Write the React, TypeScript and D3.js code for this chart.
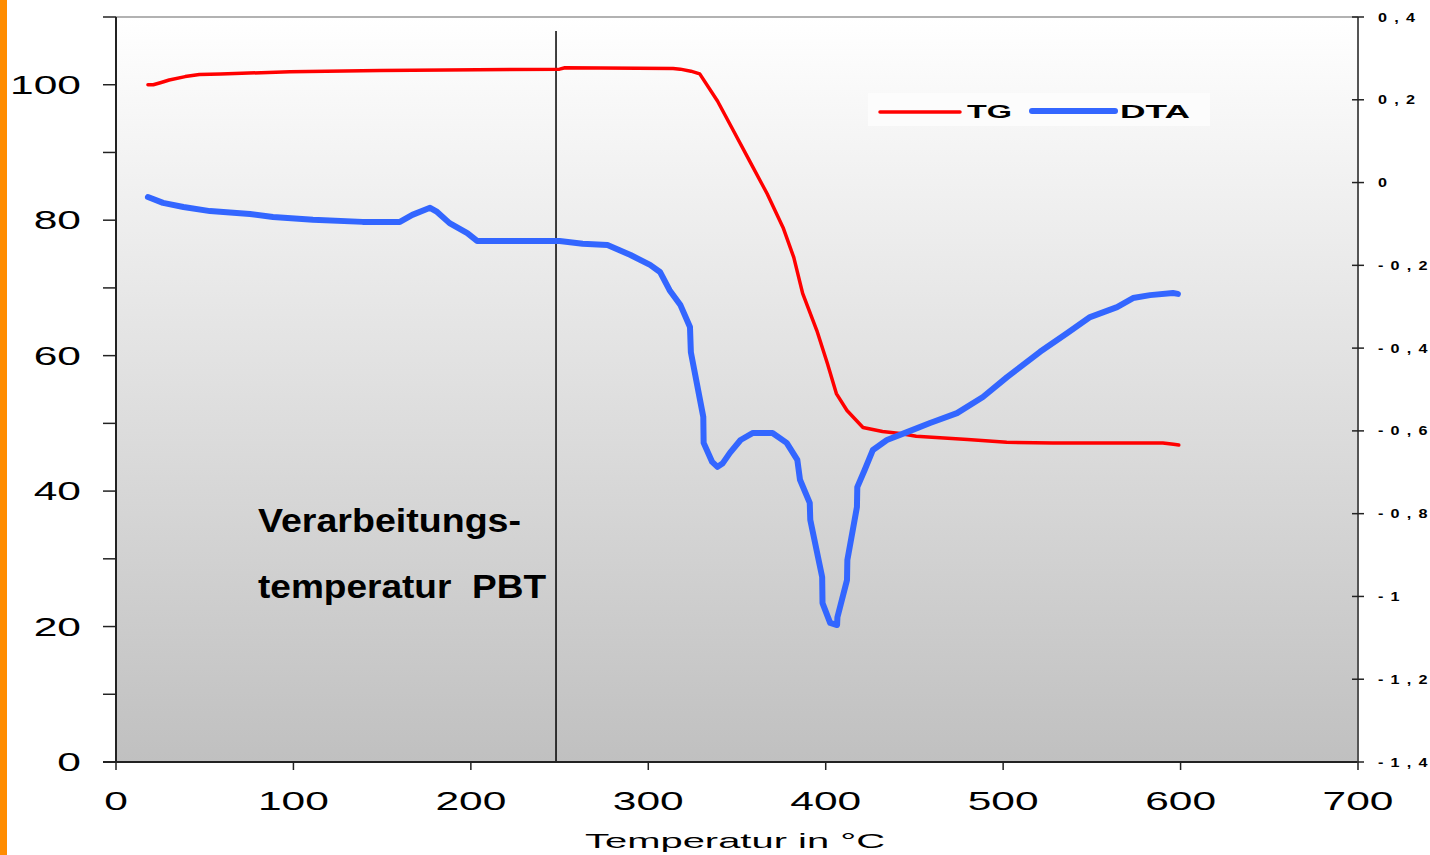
import React from "react";
import * as d3 from "d3";

const tgTemp = [18, 21, 25, 30, 39, 47, 59, 98, 149, 250, 253, 314, 318, 324, 329, 339, 348, 357, 367, 376, 382, 387, 395, 401, 406, 412, 421, 432, 442, 451, 480, 502, 528, 590, 596, 599];
const tgValue = [100.0, 100.0, 100.3, 100.7, 101.2, 101.5, 101.6, 101.9, 102.1, 102.3, 102.5, 102.4, 102.3, 102.0, 101.6, 97.6, 93.2, 88.8, 83.9, 78.9, 74.5, 69.2, 63.7, 58.8, 54.4, 51.9, 49.4, 48.8, 48.5, 48.1, 47.6, 47.2, 47.1, 47.1, 46.9, 46.8];

const dtaTemp = [18, 26.5, 38, 53, 75.5, 88.5, 111, 139, 160, 167, 177, 181, 188, 198, 203.5, 250, 263, 277, 290, 301, 306.6, 312, 318, 323.5, 324, 331, 331.2, 336, 339, 342, 346, 352, 359, 370, 378, 384, 385.5, 391, 391.3, 398, 398.2, 402.5, 406.4, 406.6, 412, 412.2, 417.6, 417.8, 422, 426.6, 434.5, 445.8, 458.8, 474, 488.6, 502.2, 520.8, 536, 549, 564.2, 573.2, 582.8, 595.7, 598.5];
const dtaValue = [-0.035, -0.049, -0.059, -0.069, -0.076, -0.083, -0.090, -0.095, -0.095, -0.078, -0.061, -0.071, -0.098, -0.122, -0.141, -0.141, -0.148, -0.151, -0.175, -0.199, -0.216, -0.26, -0.295, -0.349, -0.41, -0.566, -0.629, -0.675, -0.687, -0.678, -0.653, -0.622, -0.605, -0.605, -0.629, -0.670, -0.718, -0.774, -0.815, -0.953, -1.016, -1.064, -1.069, -1.050, -0.960, -0.912, -0.784, -0.736, -0.694, -0.646, -0.622, -0.603, -0.581, -0.557, -0.518, -0.470, -0.409, -0.364, -0.325, -0.301, -0.279, -0.272, -0.267, -0.269];

const xTicks = [0, 100, 200, 300, 400, 500, 600, 700];
const leftTicks = [0, 10, 20, 30, 40, 50, 60, 70, 80, 90, 100, 110];
const leftLabels = [0, 20, 40, 60, 80, 100];
const rightTicks = [0.4, 0.2, 0, -0.2, -0.4, -0.6, -0.8, -1, -1.2, -1.4];
const processTemp = 248;

const xTitle = "Temperatur in °C";
const noteLines = ["Verarbeitungs-", "temperatur  PBT"];
const legendNames = ["TG", "DTA"];

const W = 1430, H = 855;
const L = 116, R = 1358, T = 17, B = 762;

function fmtRight(v: number): string {
  const s = String(Math.round(v * 10) / 10).replace(".", ",");
  return s.replace("-", "- ").split(",").join(" , ");
}

export default function App() {
  const x = d3.scaleLinear().domain([0, 700]).range([L, R]);
  const yL = d3.scaleLinear().domain([0, 110]).range([B, T]);
  const yR = d3.scaleLinear().domain([-1.4, 0.4]).range([B, T]);

  const tgLine = d3.line<number>().x((_, i) => x(tgTemp[i])).y((d) => yL(d))(tgValue) || "";
  const dtaLine = d3.line<number>().x((_, i) => x(dtaTemp[i])).y((d) => yR(d))(dtaValue) || "";

  const font = "Arial, 'Liberation Sans', Helvetica, sans-serif";

  return (
    <svg width={W} height={H} style={{ position: "fixed", left: 0, top: 0, background: "#fff" }} fontFamily={font}>
      <defs>
        <linearGradient id="bg" x1="0" y1="0" x2="0" y2="1">
          <stop offset="0" stopColor="#ffffff" />
          <stop offset="1" stopColor="#c0c0c0" />
        </linearGradient>
      </defs>
      <rect x={0} y={0} width={W} height={H} fill="#fff" />
      <rect x={0} y={0} width={7} height={H} fill="#ff8c00" />
      <rect x={L} y={T} width={R - L} height={B - T} fill="url(#bg)" />
      <line x1={L} x2={R} y1={T} y2={T} stroke="#999" strokeWidth={1.5} />

      {/* legend */}
      <rect x={868} y={93} width={342} height={33} fill="#fcfcfc" />
      <line x1={880} x2={960} y1={112} y2={112} stroke="#ff0000" strokeWidth={3.5} strokeLinecap="round" />
      <text x={967} y={118} fontSize={18} fontWeight="bold" textLength={45} lengthAdjust="spacingAndGlyphs">{legendNames[0]}</text>
      <line x1={1032} x2={1115} y1={111} y2={111} stroke="#3366ff" strokeWidth={6} strokeLinecap="round" />
      <text x={1120} y={118} fontSize={18} fontWeight="bold" textLength={70} lengthAdjust="spacingAndGlyphs">{legendNames[1]}</text>

      {/* process temperature line */}
      <line x1={x(processTemp)} x2={x(processTemp)} y1={31} y2={B} stroke="#000" strokeWidth={1.5} />

      {/* annotation */}
      <text x={258} y={532} fontSize={34} fontWeight="bold" textLength={263} lengthAdjust="spacingAndGlyphs">{noteLines[0]}</text>
      <text x={258} y={598} fontSize={34} fontWeight="bold" textLength={288} lengthAdjust="spacingAndGlyphs" style={{ whiteSpace: "pre" }}>{noteLines[1]}</text>

      {/* curves */}
      <path d={tgLine} fill="none" stroke="#ff0000" strokeWidth={3.5} strokeLinejoin="round" strokeLinecap="round" />
      <path d={dtaLine} fill="none" stroke="#3366ff" strokeWidth={6} strokeLinejoin="round" strokeLinecap="round" />

      {/* left axis */}
      <line x1={L} x2={L} y1={T} y2={B} stroke="#222" strokeWidth={2} />
      {leftTicks.map((t) => (
        <line key={"lt" + t} x1={103} x2={L} y1={yL(t)} y2={yL(t)} stroke="#222" strokeWidth={1.5} />
      ))}
      {leftLabels.map((t) => (
        <text key={"ll" + t} transform={`translate(81,${yL(t) + 9}) scale(1.7,1)`} fontSize={25} textAnchor="end" fill="#000">{t}</text>
      ))}

      {/* bottom axis */}
      <line x1={L - 13} x2={R} y1={B} y2={B} stroke="#222" strokeWidth={2} />
      {xTicks.map((t) => (
        <line key={"xt" + t} x1={x(t)} x2={x(t)} y1={B} y2={B + 8} stroke="#222" strokeWidth={1.5} />
      ))}
      {xTicks.map((t) => (
        <text key={"xl" + t} transform={`translate(${x(t)},810) scale(1.7,1)`} fontSize={25} textAnchor="middle" fill="#000">{t}</text>
      ))}
      <text x={585} y={848} fontSize={21} textLength={300} lengthAdjust="spacingAndGlyphs" fill="#000">{xTitle}</text>

      {/* right axis */}
      <line x1={R} x2={R} y1={T} y2={B + 8} stroke="#555" strokeWidth={2} />
      {rightTicks.map((t) => (
        <line key={"rt" + t} x1={R - 6} x2={R + 6} y1={yR(t)} y2={yR(t)} stroke="#222" strokeWidth={1.5} />
      ))}
      {rightTicks.map((t) => (
        <text key={"rl" + t} transform={`translate(1378,${yR(t) + 4.5}) scale(1.35,1)`} fontSize={12} fontWeight="bold" letterSpacing={1} fill="#000" style={{ whiteSpace: "pre" }}>{fmtRight(t)}</text>
      ))}
    </svg>
  );
}
